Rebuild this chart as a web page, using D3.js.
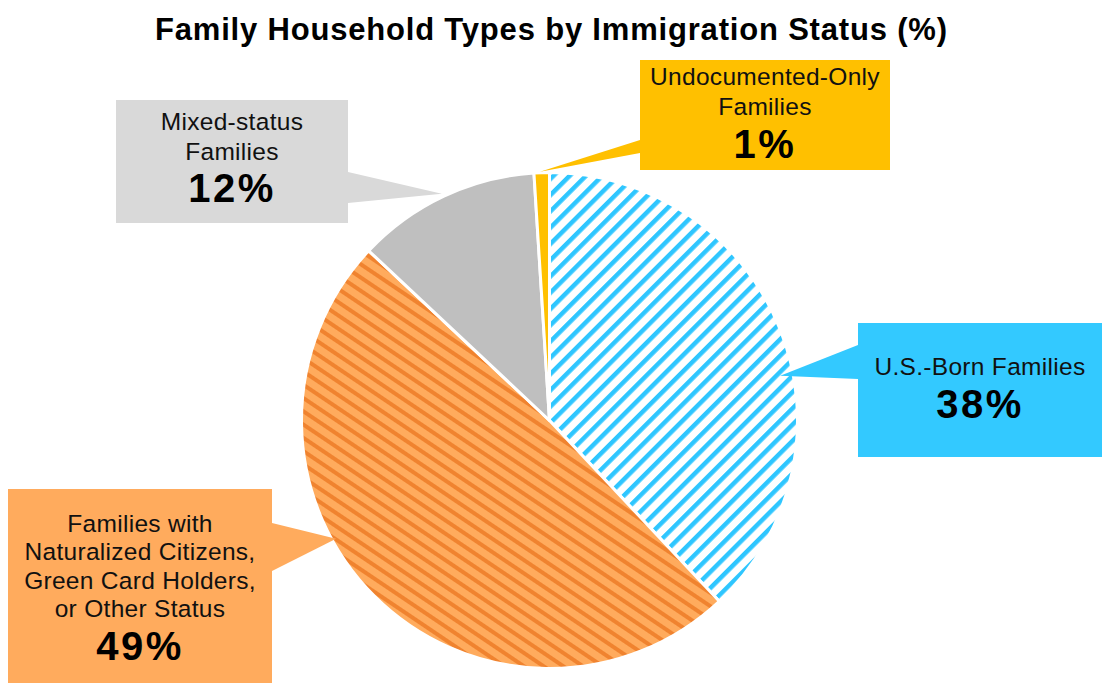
<!DOCTYPE html>
<html lang="en">
<head>
  <meta charset="utf-8" />
  <title>Family Household Types by Immigration Status</title>
  <style>
    body {
      margin: 0;
      background: #fff;
      font-family: "Liberation Sans", Arial, Helvetica, sans-serif;
    }
    svg { display: block; }
    .title { font-size: 31px; font-weight: 700; fill: #000; }
    .lbl { font-size: 24.5px; fill: #111; letter-spacing: 0.3px; }
    .pct { font-size: 40px; font-weight: 700; fill: #000; letter-spacing: 2.5px; }
  </style>
</head>
<body>
  <div id="graphic"></div>
  <script src="https://cdn.jsdelivr.net/npm/d3@7"></script>
  <script>
    // data, clockwise from 12 o'clock
    var categories = ["U.S.-Born Families", "Families with Naturalized Citizens, Green Card Holders, or Other Status", "Mixed-status Families", "Undocumented-Only Families"];
    var values = [38, 49, 12, 1];
    var labelLines = [
      ["U.S.-Born Families"],
      ["Families with", "Naturalized Citizens,", "Green Card Holders,", "or Other Status"],
      ["Mixed-status", "Families"],
      ["Undocumented-Only", "Families"]
    ];
    var titleText = "Family Household Types by Immigration Status (%)";

    var width = 1102, height = 683;
    var cx = 549.5, cy = 420.5, radius = 248;

    // callout boxes (layout only)
    var callouts = [
      { x: 858, y: 323, w: 244, h: 134, side: "left",  base: [345, 379], tipDeg: 79,    tipR: 235, first: 375, gap: 30, pctGap: 43, box: "#33c9ff" },
      { x: 8,   y: 489, w: 264, h: 194, side: "right", base: [523, 571], tipDeg: 241,   tipR: 244, first: 532, gap: 28.3, pctGap: 43, box: "#ffab5d" },
      { x: 116, y: 100, w: 232, h: 123, side: "right", base: [172, 203], tipDeg: 334.6, tipR: 251, first: 130, gap: 30, pctGap: 42, box: "#d9d9d9" },
      { x: 640, y: 60,  w: 250, h: 110, side: "left",  base: [140, 153], tipDeg: 357.8, tipR: 249, first: 85,  gap: 30, pctGap: 43, box: "#ffc000" }
    ];

    var svg = d3.select("#graphic").append("svg")
      .attr("width", width)
      .attr("height", height);

    var defs = svg.append("defs");

    // blue hatch "/"
    var pBlue = defs.append("pattern")
      .attr("id", "hatchBlue")
      .attr("patternUnits", "userSpaceOnUse")
      .attr("width", 11.5).attr("height", 11.5)
      .attr("patternTransform", "rotate(45)");
    pBlue.append("rect").attr("width", 11.5).attr("height", 11.5).attr("fill", "#fff");
    pBlue.append("rect").attr("width", 4.5).attr("height", 11.5).attr("fill", "#2ec6ff");

    // orange hatch "\"
    var pOrange = defs.append("pattern")
      .attr("id", "hatchOrange")
      .attr("patternUnits", "userSpaceOnUse")
      .attr("width", 11).attr("height", 11)
      .attr("patternTransform", "rotate(-56)");
    pOrange.append("rect").attr("width", 11).attr("height", 11).attr("fill", "#ffab5d");
    pOrange.append("rect").attr("width", 4).attr("height", 11).attr("fill", "#f0832f");

    var sliceFill = ["url(#hatchBlue)", "url(#hatchOrange)", "#bfbfbf", "#ffc000"];

    svg.append("text")
      .attr("class", "title")
      .attr("x", width / 2)
      .attr("y", 40)
      .attr("text-anchor", "middle")
      .attr("textLength", 792)
      .attr("lengthAdjust", "spacing")
      .text(titleText);

    var pie = d3.pie().sort(null).value(function(d) { return d; });
    var arcs = pie(values);

    var arc = d3.arc().innerRadius(0).outerRadius(radius);

    var g = svg.append("g").attr("transform", "translate(" + cx + "," + cy + ")");

    g.selectAll("path.slice")
      .data(arcs)
      .enter().append("path")
      .attr("class", "slice")
      .attr("d", arc)
      .attr("fill", function(d, i) { return sliceFill[i]; })
      .attr("stroke", "#fff")
      .attr("stroke-width", 3)
      .attr("stroke-linejoin", "round");

    // callouts
    callouts.forEach(function(c, i) {
      var a = c.tipDeg * Math.PI / 180;
      var tx = cx + c.tipR * Math.sin(a);
      var ty = cy - c.tipR * Math.cos(a);
      var bx = c.side === "left" ? c.x : c.x + c.w;
      var cg = svg.append("g").attr("class", "callout");

      cg.append("path")
        .attr("d", "M" + bx + "," + c.base[0] + "L" + tx + "," + ty + "L" + bx + "," + c.base[1] + "Z")
        .attr("fill", c.box);

      cg.append("rect")
        .attr("x", c.x).attr("y", c.y)
        .attr("width", c.w).attr("height", c.h)
        .attr("fill", c.box);

      var mid = c.x + c.w / 2;
      labelLines[i].forEach(function(line, j) {
        cg.append("text")
          .attr("class", "lbl")
          .attr("x", mid)
          .attr("y", c.first + j * c.gap)
          .attr("text-anchor", "middle")
          .text(line);
      });

      cg.append("text")
        .attr("class", "pct")
        .attr("x", mid)
        .attr("y", c.first + (labelLines[i].length - 1) * c.gap + c.pctGap)
        .attr("text-anchor", "middle")
        .text(values[i] + "%");
    });
  </script>
</body>
</html>
